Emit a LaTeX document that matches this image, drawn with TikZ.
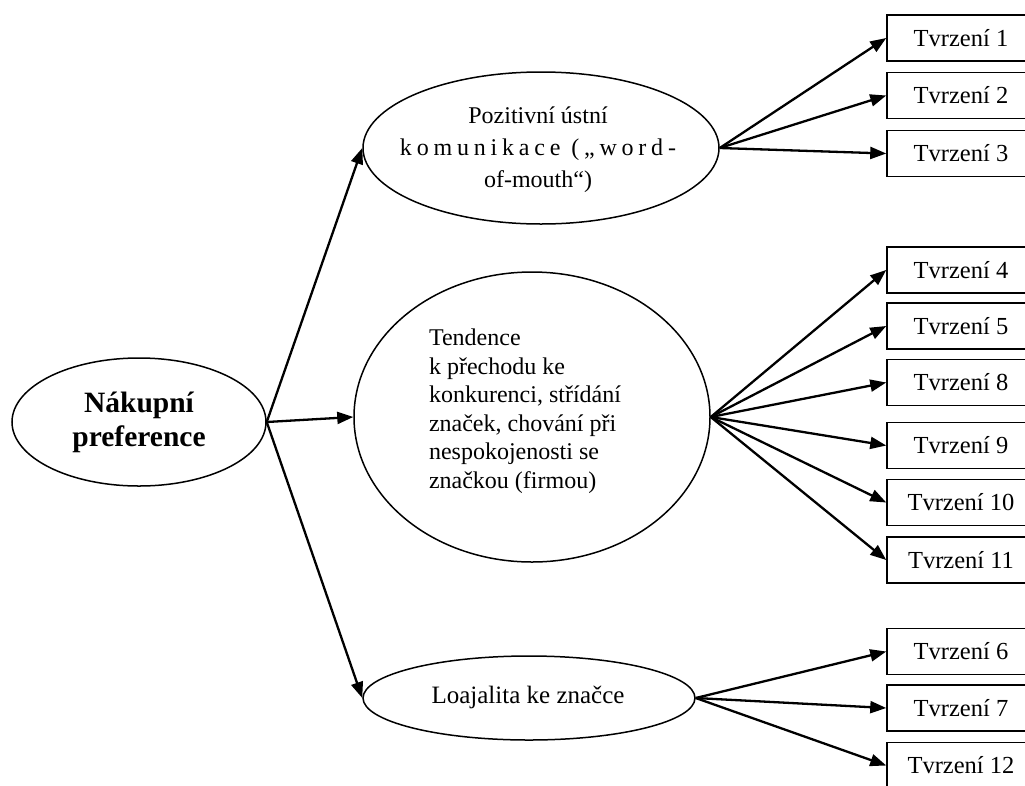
\documentclass[tikz,border=0pt]{standalone}
\usepackage{fontspec}
\setmainfont{Liberation Serif}
\usetikzlibrary{shapes.geometric,arrows.meta}
\begin{document}
\begin{tikzpicture}[x=1pt,y=-1pt,
  oval/.style={draw,ellipse,line width=1.5pt,inner sep=0pt},
  stbox/.style={draw,line width=1.5pt,minimum width=148pt,minimum height=46pt,inner sep=0pt,font=\fontsize{24.5}{26}\selectfont},
  arr/.style={line width=2.3pt,-{Triangle[length=16pt,width=12pt]}},
  txt/.style={inner sep=0pt,font=\fontsize{24}{28.5}\selectfont}
]
\clip (0,0) rectangle (1025,785);
\fill[white] (0,0) rectangle (1025,785);
% ellipses
\node[oval,minimum width=254pt,minimum height=128pt] (np) at (139,422) {};
\node[inner sep=0pt,align=center,font=\bfseries\fontsize{29.5}{34}\selectfont] (npt) at (np.center) {Nákupní\\preference};
\node[oval,minimum width=356pt,minimum height=152pt] (pz) at (541,148) {};
\node[txt,align=center,font=\fontsize{24}{32}\selectfont] (pzt) at (538,150) {Pozitivní ústní\\{\addfontfeature{LetterSpace=20}komunikace („word-}\\of-mouth“)};
\node[oval,minimum width=356pt,minimum height=290pt] (td) at (532,417) {};
\node[txt,align=left] (tdt) at (525,411) {Tendence\\k přechodu ke\\konkurenci, střídání\\značek, chování při\\nespokojenosti se\\značkou (firmou)};
\node[oval,minimum width=332pt,minimum height=84pt] (lo) at (529,698) {};
\node[txt,font=\fontsize{25}{28}\selectfont] (lot) at (528,697) {Loajalita ke značce};
% boxes
\node[stbox] (t1) at (961,38) {Tvrzení 1};
\node[stbox] (t2) at (961,95.5) {Tvrzení 2};
\node[stbox] (t3) at (961,153.5) {Tvrzení 3};
\node[stbox] (t4) at (961,270) {Tvrzení 4};
\node[stbox] (t5) at (961,326) {Tvrzení 5};
\node[stbox] (t8) at (961,382.5) {Tvrzení 8};
\node[stbox] (t9) at (961,445.5) {Tvrzení 9};
\node[stbox] (t10) at (961,502.5) {Tvrzení 10};
\node[stbox] (t11) at (961,560) {Tvrzení 11};
\node[stbox] (t6) at (961,651.5) {Tvrzení 6};
\node[stbox] (t7) at (961,708) {Tvrzení 7};
\node[stbox] (t12) at (961,765.5) {Tvrzení 12};
% arrows
\draw[arr] (np.east) -- (pz.west);
\draw[arr] (np.east) -- (td.west);
\draw[arr] (np.east) -- (lo.west);
\foreach \t in {t1,t2,t3} \draw[arr] (pz.east) -- (\t.west);
\foreach \t in {t4,t5,t8,t9,t10,t11} \draw[arr] (td.east) -- (\t.west);
\foreach \t in {t6,t7,t12} \draw[arr] (lo.east) -- (\t.west);
\end{tikzpicture}
\end{document}
